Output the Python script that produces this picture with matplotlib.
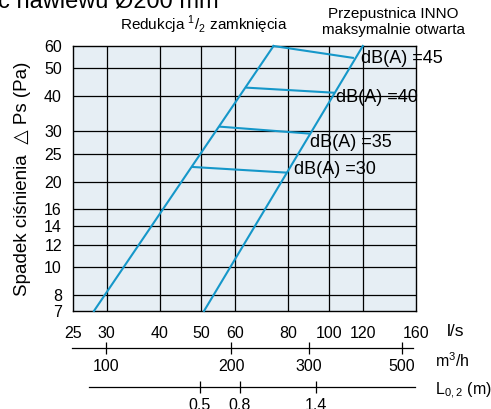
import matplotlib
matplotlib.use("Agg")
import matplotlib.pyplot as plt

plt.rcParams["font.family"] = ["Liberation Sans", "DejaVu Sans"]
plt.rcParams["mathtext.fontset"] = "custom"
plt.rcParams["mathtext.rm"] = "Liberation Sans"

# -- Data (flow in l/s, pressure drop in Pa)
X_TICKS = [25, 30, 40, 50, 60, 80, 100, 120, 160]
Y_TICKS = [7, 8, 10, 12, 14, 16, 20, 25, 30, 40, 50, 60]

REDUCTION_Q = [28.0, 74.0]
REDUCTION_P = [7.0, 60.0]
OPEN_Q = [50.8, 120.0]
OPEN_P = [7.0, 60.0]

DB_LABELS = ["dB(A) =45", "dB(A) =40", "dB(A) =35", "dB(A) =30"]
DB_Q = [[74.0, 113.7], [64.1, 102.1], [55.4, 89.7], [47.8, 79.2]]
DB_P = [[60.0, 54.5], [42.8, 41.1], [31.2, 29.5], [22.5, 21.5]]
DB_LABEL_POS = [(119.0, 54.0), (103.7, 39.4), (90.1, 27.5), (82.6, 22.0)]

M3H_TICKS = [29.9, 58.8, 89.7, 148.3]
M3H_LABELS = ["100", "200", "300", "500"]
L_TICKS = [49.7, 61.7, 93.2]
L_LABELS = ["0.5", "0.8", "1.4"]

LINE_COLOR = "#1597c9"
BG = "#e6eef4"

W, H = 491, 409
fig = plt.figure(figsize=(W / 100, H / 100), dpi=100)


def fx(px):
    return px / W


def fy(py):
    return 1 - py / H


left, right, top, bottom = 73, 416, 46, 311
ax = fig.add_axes([fx(left), fy(bottom), fx(right - left), (bottom - top) / H])
ax.set_facecolor(BG)
ax.set_xscale("log")
ax.set_yscale("log")
ax.set_xlim(25, 160)
ax.set_ylim(7, 60)

for q in X_TICKS[1:-1]:
    ax.axvline(q, color="black", lw=0.9, zorder=1)
for p in Y_TICKS[1:-1]:
    ax.axhline(p, color="black", lw=0.9, zorder=1)

ax.set_xticks(X_TICKS)
ax.set_xticklabels([str(t) for t in X_TICKS])
ax.set_yticks(Y_TICKS)
ax.set_yticklabels([str(t) for t in Y_TICKS])
ax.minorticks_off()
ax.tick_params(axis="both", length=0, labelsize=11.5)
ax.tick_params(axis="x", pad=11)
ax.tick_params(axis="y", pad=8)
for s in ax.spines.values():
    s.set_linewidth(1.0)

ax.plot(REDUCTION_Q, REDUCTION_P, color=LINE_COLOR, lw=1.5, zorder=3, clip_on=False)
ax.plot(OPEN_Q, OPEN_P, color=LINE_COLOR, lw=1.5, zorder=3, clip_on=False)
for q, p, lab, pos in zip(DB_Q, DB_P, DB_LABELS, DB_LABEL_POS):
    ax.plot(q, p, color=LINE_COLOR, lw=1.5, zorder=3, clip_on=False)
    ax.text(pos[0], pos[1], lab, fontsize=13, ha="left", va="center", zorder=4, clip_on=False)

ax.set_ylabel("Spadek ciśnienia  \u25b3 Ps (Pa)", fontsize=13.5)
ax.yaxis.set_label_coords(-(73 - 31) / (right - left), 0.5)

# secondary scales below the plot
def add_scale(ypx, bounds, ticks, labels, pad):
    a = fig.add_axes([fx(left), fy(ypx), fx(right - left), 0.001])
    a.set_xscale("log")
    a.set_xlim(25, 160)
    a.patch.set_visible(False)
    for k in ("top", "left", "right"):
        a.spines[k].set_visible(False)
    a.spines["bottom"].set_bounds(*bounds)
    a.spines["bottom"].set_linewidth(0.9)
    a.set_yticks([])
    a.set_xticks(ticks)
    a.set_xticklabels(labels)
    a.minorticks_off()
    a.tick_params(axis="x", direction="inout", length=8, width=0.9, labelsize=11.5, pad=pad)
    return a


add_scale(348, (24.9, 157.4), M3H_TICKS, M3H_LABELS, 4)
add_scale(387, (27.3, 159.1), L_TICKS, L_LABELS, 4)

fig.text(fx(447), fy(332), "l/s", fontsize=12.5, ha="left", va="center")
fig.text(fx(435), fy(361), "m$^3$/h", fontsize=11.5, ha="left", va="center")
fig.text(fx(435), fy(391), "L$_{0,2}$ (m)", fontsize=11.5, ha="left", va="center")

fig.text(fx(204), fy(30), "Redukcja $^1$/$_2$ zamknięcia", fontsize=11, ha="center", va="baseline")
fig.text(fx(393), fy(18), "Przepustnica INNO", fontsize=11, ha="center", va="baseline")
fig.text(fx(393), fy(34), "maksymalnie otwarta", fontsize=11, ha="center", va="baseline")
fig.text(fx(-2), fy(8), "c nawiewu Ø200 mm", fontsize=17, ha="left", va="baseline")

fig.savefig("out.png", dpi=100)
